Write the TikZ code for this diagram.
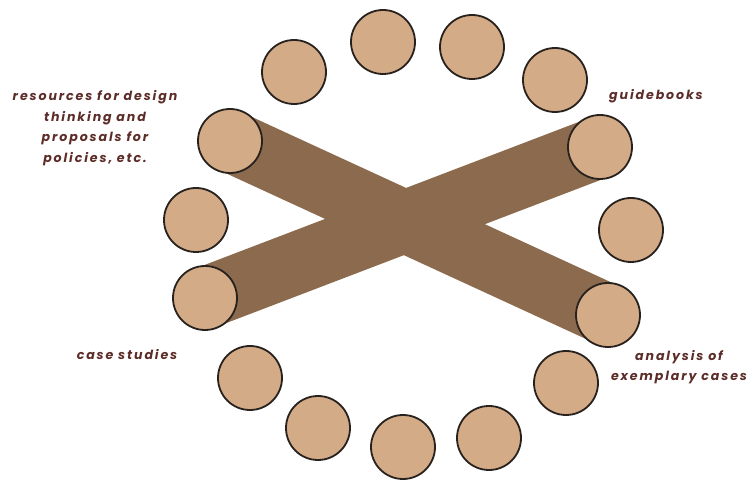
\documentclass[tikz,border=0pt]{standalone}
\usepackage{fontspec}
\setmainfont{Poppins}
\newfontfamily\labelfont[LetterSpace=15]{Poppins}
\usepackage{xcolor}
\definecolor{seatfill}{RGB}{212,171,135}
\definecolor{seatline}{RGB}{40,34,30}
\definecolor{barbrown}{RGB}{139,106,78}
\definecolor{labelbrown}{RGB}{92,45,40}
\usetikzlibrary{positioning}

\begin{document}
\begin{tikzpicture}[
  x=1pt, y=-1pt,
  seat/.style={circle, draw=seatline, line width=1.8pt, fill=seatfill,
               minimum size=64pt, inner sep=0pt},
  bar/.style={draw=barbrown, line width=62pt},
  lbl/.style={font=\labelfont\bfseries\itshape\fontsize{12.6}{20.5}\selectfont,
              text=labelbrown, align=center, inner sep=0pt}
]
\useasboundingbox (0,0) rectangle (748,481);
%--- Seats that carry the bars ----------------------------------------------
\coordinate (s5)  at (230,141);
\coordinate (s6)  at (600,147);
\coordinate (s9)  at (205,298);
\coordinate (s10) at (608,315);
%--- The two crossing bars --------------------------------------------------
\draw[bar] (s9) -- (s6);
\draw[bar] (s5) -- (s10);
%--- Ring of seats ----------------------------------------------------------
\node[seat] (p1)  at (294, 72) {};
\node[seat] (p2)  at (383, 42) {};
\node[seat] (p3)  at (472, 47) {};
\node[seat] (p4)  at (555, 80) {};
\node[seat] (p5)  at (s5) {};
\node[seat] (p6)  at (s6) {};
\node[seat] (p7)  at (196,220) {};
\node[seat] (p8)  at (631,230) {};
\node[seat] (p9)  at (s9) {};
\node[seat] (p10) at (s10) {};
\node[seat] (p11) at (250,378) {};
\node[seat] (p12) at (566,383) {};
\node[seat] (p13) at (318,428) {};
\node[seat] (p14) at (403,447) {};
\node[seat] (p15) at (489,438) {};
%--- Labels -----------------------------------------------------------------
\node[lbl] (resources) at (95,128) {resources for design\\thinking and\\proposals for\\policies, etc.};
\node[lbl] (guide)     at (656,96)  {guidebooks};
\node[lbl] (cases)     at (127,355) {case studies};
\node[lbl] (analysis)  at (679,367) {analysis of\\exemplary cases};
\end{tikzpicture}
\end{document}
